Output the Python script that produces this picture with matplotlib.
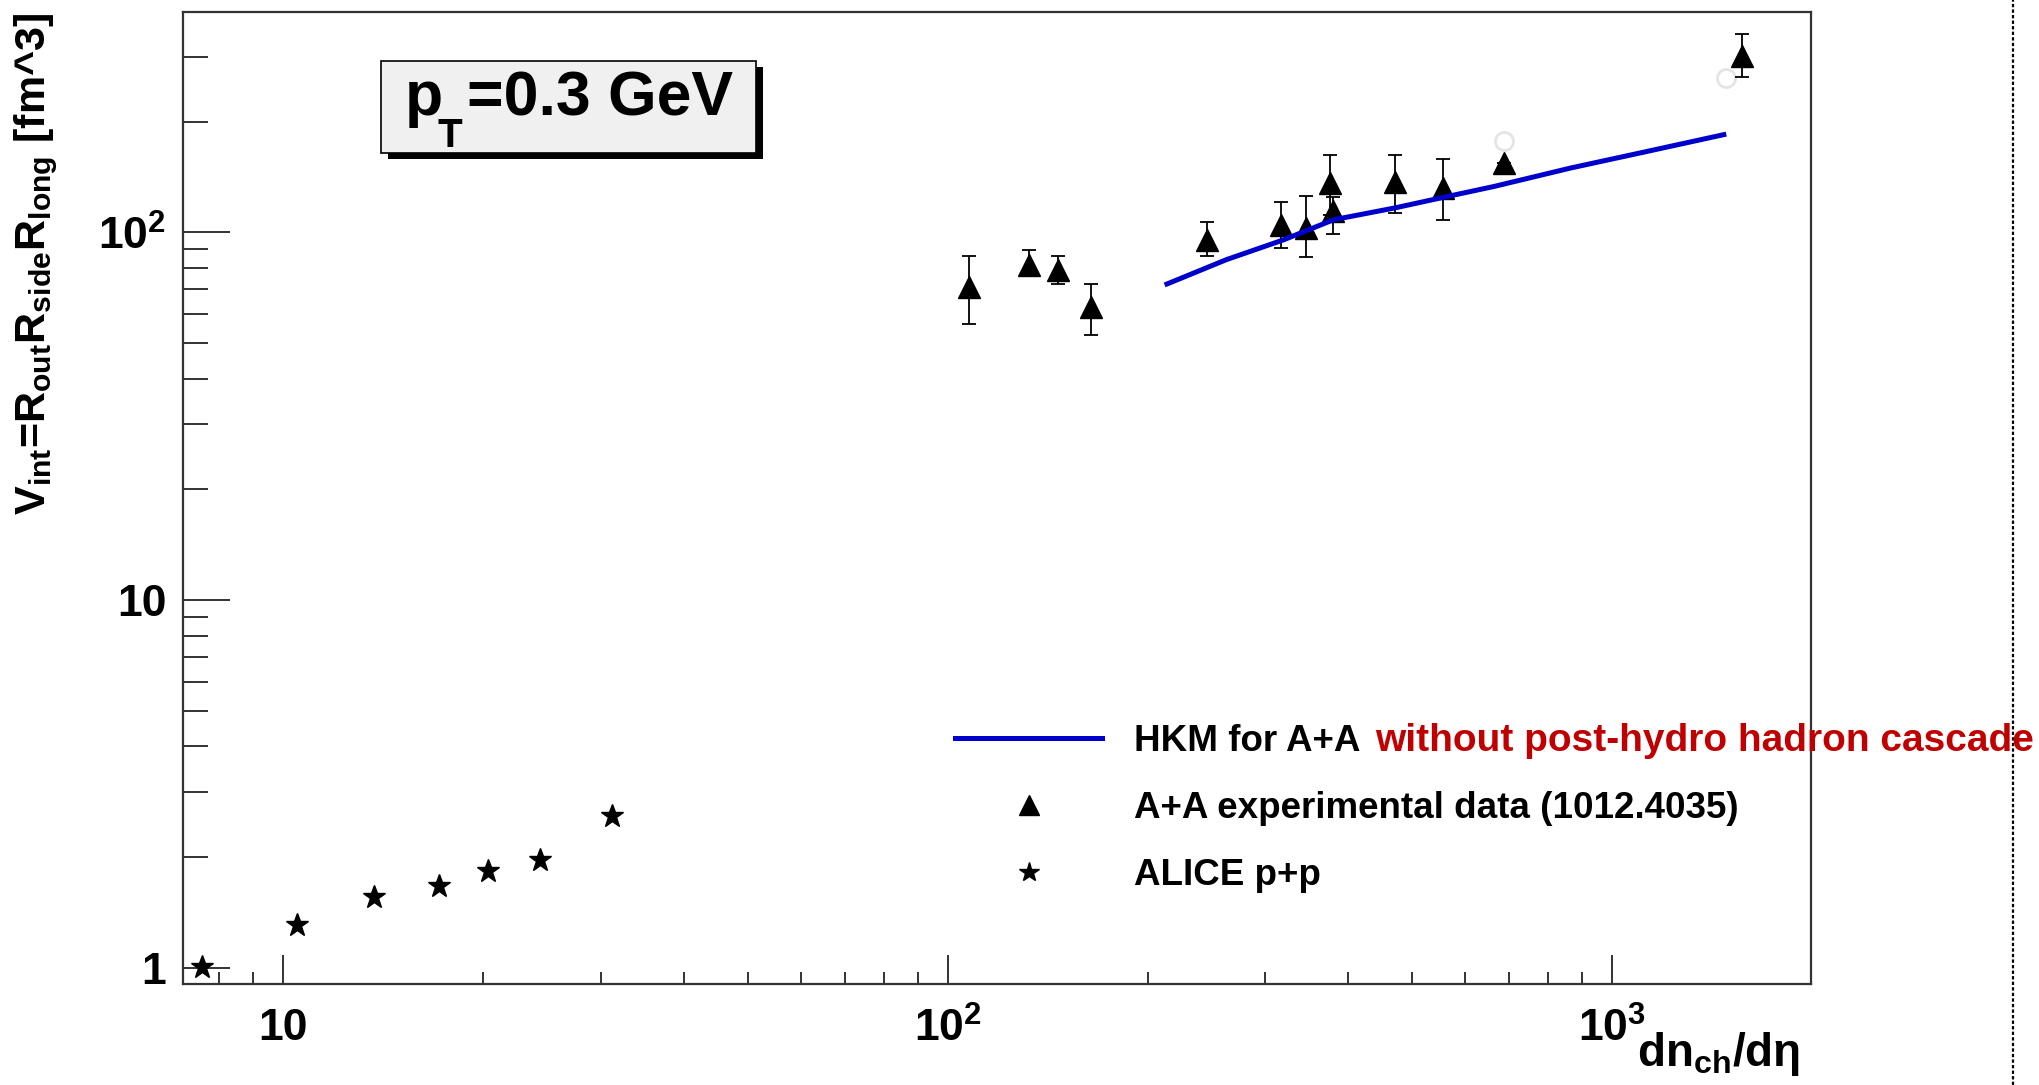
import numpy as np
import matplotlib
matplotlib.use("Agg")
import matplotlib.pyplot as plt
from matplotlib.lines import Line2D
from matplotlib.patches import Rectangle
from matplotlib.ticker import FixedLocator, FixedFormatter, LogLocator, NullFormatter
from matplotlib.transforms import IdentityTransform

plt.rcParams['font.family'] = ['Liberation Sans', 'DejaVu Sans']
plt.rcParams['font.weight'] = 'bold'
plt.rcParams['mathtext.fontset'] = 'custom'
plt.rcParams['mathtext.rm'] = 'Liberation Sans:bold'
plt.rcParams['mathtext.it'] = 'Liberation Sans:bold'
plt.rcParams['mathtext.bf'] = 'Liberation Sans:bold'
plt.rcParams['mathtext.default'] = 'rm'

# ALICE p+p
pp_x = [7.53, 10.49, 13.69, 17.13, 20.33, 24.31, 31.23]
pp_y = [1.006, 1.307, 1.56, 1.67, 1.833, 1.963, 2.592]

# A+A experimental data (1012.4035), value with lower / upper error ends
aa_x = [107.5, 132.5, 146.4, 164.3, 245.4, 316.6, 346.2, 376.3, 380.1, 471.1, 556.8, 687.6, 1569]
aa_y = [70.9, 81.6, 78.7, 62.6, 95.4, 104.8, 102.7, 136.1, 113.9, 136.6, 131.9, 154.3, 300.8]
aa_lo = [56.3, 75.8, 72.4, 52.6, 86.4, 90.6, 85.6, 111.6, 98.9, 112.8, 108.1, 154.3, 264.3]
aa_hi = [86.3, 89.5, 86.3, 72.3, 106.5, 120.8, 125.7, 162.6, 125.0, 162.6, 158.5, 154.3, 346.0]

# faint open points
ghost_x = [687.6, 1484]
ghost_y = [176.6, 262.7]

# HKM for A+A
hkm_x = [213.6, 262.4, 320.3, 380.4, 470.3, 559, 663.9, 865.7, 1128.7, 1471]
hkm_y = [72.3, 84.2, 95.4, 108.1, 116.4, 124.6, 133.2, 149.5, 165.9, 184.2]

W, H = 2039, 1085
fig = plt.figure(figsize=(W / 100, H / 100), dpi=100)
ax = fig.add_axes([183 / W, 1 - 984 / H, (1811 - 183) / W, (984 - 12) / H])
ax.set_xscale('log')
ax.set_yscale('log')
ax.set_xlim(7.06, 1990)
ax.set_ylim(0.903, 397)

aa_y = np.array(aa_y)
yerr = [aa_y - np.array(aa_lo), np.array(aa_hi) - aa_y]
ax.errorbar(aa_x, aa_y, yerr=yerr, fmt='^', color='black', ms=16,
            elinewidth=1.3, capsize=5, capthick=1.3, zorder=2)
ax.plot(pp_x, pp_y, '*', color='black', ms=17, zorder=2)
ax.plot(ghost_x, ghost_y, 'o', mfc='none', mec='#e4e4e4', mew=2, ms=13, zorder=1)
ax.plot(hkm_x, hkm_y, '-', color='#0000cc', lw=3.6, zorder=3)

# axes frame and ticks
for s in ax.spines.values():
    s.set_linewidth(1.6)
    s.set_color('#333333')

ax.xaxis.set_major_locator(FixedLocator([10, 100, 1000]))
ax.xaxis.set_major_formatter(FixedFormatter(['10', '10$^{2}$', '10$^{3}$']))
ax.yaxis.set_major_locator(FixedLocator([1, 10, 100]))
ax.yaxis.set_major_formatter(FixedFormatter(['1', '10', '10$^{2}$']))
ax.xaxis.set_minor_locator(LogLocator(base=10, subs=np.arange(2, 10)))
ax.yaxis.set_minor_locator(LogLocator(base=10, subs=np.arange(2, 10)))
ax.xaxis.set_minor_formatter(NullFormatter())
ax.yaxis.set_minor_formatter(NullFormatter())
ax.tick_params(which='both', direction='in', top=False, right=False, color='#333333', width=1.4)
ax.tick_params(axis='x', which='major', length=21, pad=17, labelsize=32)
ax.tick_params(axis='x', which='minor', length=9)
ax.tick_params(axis='y', which='major', length=34, pad=12, labelsize=32)
ax.tick_params(axis='y', which='minor', length=18)

# axis titles
fig.text(45 / W, 1 - 13 / H, 'V$_{int}$=R$_{out}$R$_{side}$R$_{long}$ [fm^3]',
         rotation=90, rotation_mode='anchor', ha='right', va='baseline', fontsize=31)
fig.text(1800 / W, 1 - 1066 / H, 'dn$_{ch}$/d\u03b7', ha='right', va='baseline', fontsize=33)

# pT label box with shadow
fig.add_artist(Rectangle((388 / W, 1 - 159 / H), 375 / W, 92 / H,
                         transform=fig.transFigure, fc='black', ec='none'))
fig.add_artist(Rectangle((381 / W, 1 - 153 / H), 375 / W, 92 / H,
                         transform=fig.transFigure, fc='#f0f0f0', ec='black', lw=1.2))
fig.text(405 / W, 1 - 115 / H, 'p', ha='left', va='baseline', fontsize=45)
fig.text(437 / W, 1 - 147 / H, 'T', ha='left', va='baseline', fontsize=29)
fig.text(467 / W, 1 - 115 / H, '=0.3 GeV', ha='left', va='baseline', fontsize=45)

# legend
handles = [Line2D([], [], color='#0000cc', lw=3.6),
           Line2D([], [], marker='^', ls='none', color='black', ms=15),
           Line2D([], [], marker='*', ls='none', color='black', ms=15)]
labels = ['HKM for A+A', 'A+A experimental data (1012.4035)', 'ALICE p+p']
leg = fig.legend(handles, labels, loc='upper left', bbox_to_anchor=(955 / W, 1 - 724 / H),
                 frameon=False, fontsize=26.5, handlelength=4.0, handletextpad=0.87,
                 labelspacing=0.87, borderpad=0, borderaxespad=0)

fig.canvas.draw()
bb = leg.get_texts()[0].get_window_extent()
fig.text(bb.x1 + 14, bb.y0, 'without post-hydro hadron cascade', transform=IdentityTransform(),
         ha='left', va='bottom', fontsize=28, color='#c00000')

# dashed page edge on the right
fig.add_artist(Line2D([2013 / W, 2013 / W], [0, 1], transform=fig.transFigure,
                      color='black', lw=1.6, ls=(0, (1.5, 1))))

fig.savefig('out.png', dpi=100)
